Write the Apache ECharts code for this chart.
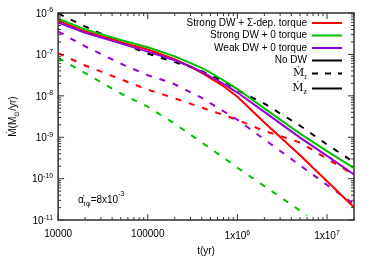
<!DOCTYPE html>
<html><head><meta charset="utf-8">
<script src="https://cdn.jsdelivr.net/npm/echarts@6/dist/echarts.min.js"></script>
<style>html,body{margin:0;padding:0;background:#fff}#c{width:374px;height:261px}</style>
</head><body><div id="c"></div>
<script>
// time grid (yr)
const times = [1e4, 2e4, 5e4, 1e5, 2e5, 3e5, 4e5, 5e5, 7e5, 1e6, 2e6, 5e6, 1e7, 2e7];
// M_z (solid)
const redSolid    = [6.51e-7, 3.61e-7, 2.00e-7, 1.31e-7, 7.65e-8, 4.99e-8, 3.61e-8, 2.69e-8, 1.71e-8, 9.48e-9, 2.28e-9, 3.69e-10, 8.71e-11, 2.04e-11];
const greenSolid  = [7.25e-7, 4.03e-7, 2.23e-7, 1.49e-7, 8.98e-8, 6.18e-8, 4.72e-8, 3.61e-8, 2.36e-8, 1.46e-8, 4.99e-9, 1.22e-9, 4.62e-10, 1.80e-10];
const purpleSolid = [5.85e-7, 3.34e-7, 1.85e-7, 1.17e-7, 7.24e-8, 5.12e-8, 3.81e-8, 2.92e-8, 1.95e-8, 1.20e-8, 4.09e-9, 9.79e-10, 3.56e-10, 1.26e-10];
// M_r (dashed)
const blackDash   = [9.74e-7, 4.72e-7, 1.90e-7, 1.05e-7, 6.52e-8, 4.99e-8, 3.92e-8, 3.16e-8, 2.23e-8, 1.38e-8, 6.49e-9, 1.90e-9, 6.70e-10, 2.48e-10];
const redDashT    = [1e4, 2e4, 5e4, 1e5, 2e5, 4e5, 7e5, 1e6, 2e6, 3e6, 5e6, 1e7, 2e7];
const redDash     = [1.07e-7, 5.41e-8, 2.51e-8, 1.41e-8, 8.71e-9, 5.20e-9, 3.44e-9, 2.62e-9, 1.42e-9, 1.08e-9, 7.45e-10, 3.03e-10, 1.24e-10];
const purpleDashT = [1e4, 2e4, 5e4, 1e5, 1.5e5, 2e5, 4e5, 7e5, 1e6, 2e6, 5e6, 1e7, 2e7];
const purpleDash  = [3.56e-7, 1.57e-7, 6.01e-8, 3.15e-8, 2.38e-8, 1.90e-8, 8.89e-9, 4.25e-9, 2.65e-9, 8.89e-10, 2.10e-10, 7.06e-11, 2.42e-11];
const greenDashT  = [1e4, 2e4, 5e4, 1e5, 2e5, 4e5, 7e5, 1e6, 2e6, 5e6, 6e6];
const greenDash   = [8.17e-8, 3.54e-8, 1.14e-8, 5.46e-9, 2.12e-9, 7.48e-10, 3.21e-10, 1.84e-10, 6.62e-11, 1.69e-11, 1.31e-11];

const xMin = 1e4, xMax = 2e7, yMin = 1e-11, yMax = 1e-6;
const legendNames = ['Strong DW + Σ-dep. torque', 'Strong DW + 0 torque', 'Weak DW + 0 torque', 'No DW', 'Mdot_r', 'Mdot_z'];

const RED = '#ff0000', GREEN = '#00c000', PURPLE = '#9400d3', BLACK = '#000000';
const FONT = 'Liberation Sans';

function zip(t, v) { return t.map((x, i) => [x, v[i]]); }

// tick positions (1..9 per decade)
const xTicks = [], yTicks = [];
for (let d = 4; d <= 7; d++) for (let k = 1; k <= 9; k++) {
  const v = k * Math.pow(10, d);
  if (v >= xMin && v <= xMax * 1.0001) xTicks.push([v, yMin, k === 1 ? 1 : 0]);
}
for (let d = -11; d <= -6; d++) for (let k = 1; k <= 9; k++) {
  const v = k * Math.pow(10, d);
  if (v >= yMin * 0.999 && v <= yMax * 1.0001) yTicks.push([xMin, v, k === 1 ? 1 : 0]);
}
const TICK = '#333';
function xTickItem(params, api) {
  const cs = params.coordSys;
  const x = api.coord([api.value(0), yMin])[0];
  const len = api.value(2) ? 6 : 3;
  const b = cs.y + cs.height, t = cs.y;
  return { type: 'group', children: [
    { type: 'line', shape: { x1: x, y1: b, x2: x, y2: b - len }, style: { stroke: TICK, lineWidth: 1 } },
    { type: 'line', shape: { x1: x, y1: t, x2: x, y2: t + len }, style: { stroke: TICK, lineWidth: 1 } }
  ]};
}
function yTickItem(params, api) {
  const cs = params.coordSys;
  const y = api.coord([xMin, api.value(1)])[1];
  const len = api.value(2) ? 6 : 3;
  const l = cs.x, r = cs.x + cs.width;
  return { type: 'group', children: [
    { type: 'line', shape: { x1: l, y1: y, x2: l + len, y2: y }, style: { stroke: TICK, lineWidth: 1 } },
    { type: 'line', shape: { x1: r, y1: y, x2: r - len, y2: y }, style: { stroke: TICK, lineWidth: 1 } }
  ]};
}

const DASH = [6, 8];
function line(name, data, color, dashed) {
  return { name, type: 'line', data, symbol: 'none', showSymbol: false, silent: true,
    lineStyle: { color, width: 2, type: dashed ? DASH : 'solid' }, itemStyle: { color }, z: 3 };
}

const chart = echarts.init(document.getElementById('c'), null, { renderer: 'canvas' });
chart.setOption({
  animation: false,
  backgroundColor: '#fff',
  textStyle: { fontFamily: FONT },
  grid: { left: 51, right: 20, top: 13, bottom: 33, show: true, borderColor: '#333', borderWidth: 1.5, backgroundColor: 'transparent' },
  title: {
    text: '{a|α̇}{s|rφ}{a|=8x10}{p|-3}', left: 78, top: 191, padding: 0,
    textStyle: { fontWeight: 'normal', rich: {
      a: { fontSize: 10, color: '#000', fontFamily: FONT, fontWeight: 'normal', verticalAlign: 'bottom', padding: [4, 0, 0, 0] },
      s: { fontSize: 7, color: '#000', fontFamily: FONT, fontWeight: 'normal', verticalAlign: 'bottom', padding: [0, 0, -3, 0] },
      p: { fontSize: 7, color: '#000', fontFamily: FONT, fontWeight: 'normal', verticalAlign: 'top' }
    } }
  },
  legend: {
    data: legendNames.map(n => n === 'Mdot_r' ? { name: n, lineStyle: { type: [6, 7] } } : n),
    itemStyle: { opacity: 0 },
    orient: 'vertical', align: 'right', right: 31, top: 18, padding: 0,
    itemWidth: 30, itemHeight: 10, itemGap: 2.5,
    selectedMode: false,
    textStyle: { fontSize: 10, color: '#000', fontFamily: FONT, lineHeight: 10,
      rich: {
        m: { fontSize: 11, fontFamily: 'DejaVu Serif', color: '#000', lineHeight: 10 },
        sb: { fontSize: 8, fontFamily: 'Liberation Serif', color: '#000', lineHeight: 8, verticalAlign: 'bottom', padding: [0, 0, -2, 0] }
      } },
    formatter: n => n === 'Mdot_r' ? '{m|Ṁ}{sb|r}' : (n === 'Mdot_z' ? '{m|Ṁ}{sb|z}' : n)
  },
  xAxis: {
    type: 'log', logBase: 10, min: xMin, max: xMax,
    name: 't(yr)', nameLocation: 'middle', nameGap: 20,
    nameTextStyle: { fontSize: 10, color: '#000', fontFamily: FONT },
    axisLine: { show: false }, axisTick: { show: false }, splitLine: { show: false },
    axisLabel: {
      showMaxLabel: false, margin: 9, color: '#000', fontSize: 10, fontFamily: FONT,
      formatter: v => {
        const e = Math.round(Math.log10(v));
        if (e <= 5) return String(Math.round(v));
        return '{b|1x10}{s|' + e + '}';
      },
      rich: {
        b: { fontSize: 10, color: '#000', fontFamily: FONT, verticalAlign: 'bottom' },
        s: { fontSize: 7, color: '#000', fontFamily: FONT, verticalAlign: 'top', padding: [0, 0, 5, 0] }
      }
    }
  },
  yAxis: {
    type: 'log', logBase: 10, min: yMin, max: yMax,
    name: '{a|Ṁ(M}{s|⊙}{a|/yr)}', nameLocation: 'middle', nameGap: 35,
    nameTextStyle: { fontSize: 10, color: '#000', fontFamily: FONT,
      rich: { a: { fontSize: 10, fontFamily: FONT, color: '#000' }, s: { fontSize: 7, fontFamily: FONT, color: '#000', verticalAlign: 'bottom', padding: [0, 0, -3, 0] } } },
    axisLine: { show: false }, axisTick: { show: false }, splitLine: { show: false },
    axisLabel: {
      margin: 5, color: '#000', fontSize: 10, fontFamily: FONT,
      formatter: v => '{b|10}{s|' + Math.round(Math.log10(v)) + '}',
      rich: {
        b: { fontSize: 10, color: '#000', fontFamily: FONT, verticalAlign: 'bottom' },
        s: { fontSize: 7, color: '#000', fontFamily: FONT, verticalAlign: 'top', padding: [0, 0, 5, 0] }
      }
    }
  },
  series: [
    { type: 'custom', name: 'xticks', data: xTicks, renderItem: xTickItem, silent: true, clip: false, z: 5 },
    { type: 'custom', name: 'yticks', data: yTicks, renderItem: yTickItem, silent: true, clip: false, z: 5 },
    line('rd', zip(redDashT, redDash), RED, true),
    line('gd', zip(greenDashT, greenDash), GREEN, true),
    line('pd', zip(purpleDashT, purpleDash), PURPLE, true),
    line('kd', zip(times, blackDash), BLACK, true),
    line('Strong DW + Σ-dep. torque', zip(times, redSolid), RED, false),
    line('Strong DW + 0 torque', zip(times, greenSolid), GREEN, false),
    line('Weak DW + 0 torque', zip(times, purpleSolid), PURPLE, false),
    line('No DW', [], BLACK, false),
    line('Mdot_r', [], BLACK, true),
    line('Mdot_z', [], BLACK, false)
  ]
});
</script></body></html>
